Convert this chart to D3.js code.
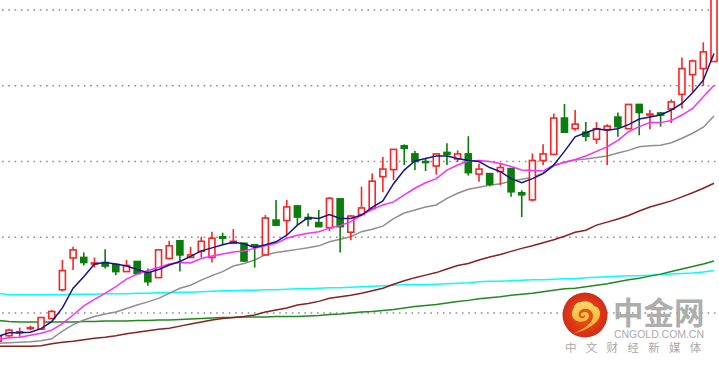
<!DOCTYPE html>
<html>
<head>
<meta charset="utf-8">
<script src="https://cdn.jsdelivr.net/npm/d3@7"></script>
<style>
  html, body { margin: 0; padding: 0; background: #fff; overflow: hidden; }
  svg { display: block; }
</style>
</head>
<body>
<div class="graph"></div>
<script>
'use strict'

// daily candles (no price axis is shown, so units are nominal)
const opens = [1172,1177.5,1180.5,1184.5,1184,1194.5,1223,1254.5,1255,1248.5,1250,1248,1241,1251,1240,1235,1254,1271.5,1255,1261,1255,1275.5,1269,1269,1267.5,1257.5,1292,1291.5,1306,1294.5,1289.5,1284.5,1313,1280,1297.5,1303.5,1335,1342,1365.5,1357.5,1350,1345.5,1359,1352.5,1357.5,1337.5,1338,1340,1343,1319,1312,1351,1357,1393,1382.5,1379,1372,1381.5,1394,1382.5,1406.5,1396,1398,1402,1416.5,1436,1442,1449]
const closes = [1177,1183,1181.5,1185.5,1195.5,1201.5,1242,1262.5,1250,1249.5,1246.5,1241,1247,1239,1231,1262.5,1266.5,1257.5,1257.5,1271,1274,1274,1271,1251.5,1266,1294,1287,1305,1295,1293,1285.5,1313.5,1285.5,1296,1304,1330.5,1342.5,1362,1363,1350,1349,1357.5,1357,1357.5,1339,1342.5,1327.5,1344,1320,1317,1351,1357.5,1393,1379,1387,1375,1382.5,1385,1384.5,1406.5,1398.5,1397,1396,1409,1442,1449.5,1458.5,1520]
const highs = [1177,1184.5,1185.5,1187.5,1195.5,1203,1252.5,1265.5,1260,1255,1263,1249,1252.5,1251,1244,1262.5,1271.5,1271.5,1265.5,1275.5,1280.5,1279.5,1283,1269.5,1267.5,1297,1312,1312,1306,1298.5,1302,1315,1313,1297,1325,1338,1354.5,1362,1367,1360.5,1353,1358,1368,1361,1375,1348,1338,1348,1343.5,1321.5,1358,1367,1397.5,1407,1401,1389,1389,1387,1398.5,1406.5,1406.5,1401,1399,1411.5,1453,1451,1468,1520]
const lows = [1172,1176.5,1176.5,1183,1184,1194,1221.5,1242.5,1247,1245,1244,1237.5,1241,1238.5,1227,1235,1253,1241,1254.5,1255,1250,1267,1268.5,1250.5,1245,1257.5,1286,1277,1287,1286,1285.5,1281,1260,1272,1297.5,1303.5,1319.5,1331.5,1346.5,1341.5,1340.5,1337,1346.5,1349.5,1336,1330,1325.5,1326.5,1315,1295,1310.5,1346.5,1357,1379,1380.5,1370,1367.5,1346.5,1374.5,1382.5,1376,1382,1384.5,1388,1402.5,1419,1425,1449]

// moving averages, one value per candle
const ma5 = [1177,1180.5,1180.5,1181,1184.5,1191.5,1205,1224.5,1236,1248.5,1250,1248.5,1246.5,1243,1240,1243,1247.5,1251,1256,1261.5,1264.5,1267.5,1270,1268.5,1265,1267.5,1270.5,1277,1287,1294.5,1293.5,1297.5,1293.5,1293.5,1297,1304.5,1311,1328,1341.5,1350.5,1353,1355.5,1355.5,1353,1351,1350,1344,1340,1333,1329,1333,1338,1346.5,1360,1374.5,1378.5,1382.5,1381,1382.5,1386.5,1392,1394,1396,1401,1407.5,1418,1430.5,1457]
const ma10 = [1174,1175.5,1176,1178,1180,1183,1189.5,1198,1207,1213.5,1219.5,1226,1233.5,1238.5,1242,1245,1248.5,1250,1249.5,1254,1256.5,1258.5,1260.5,1261.5,1264,1266.5,1269,1274,1277,1279,1280.5,1284,1286.5,1290.5,1297,1302.5,1307,1310,1317,1323.5,1329,1333,1341.5,1346.5,1350.5,1351,1350,1348,1345,1341.5,1341,1340.5,1346.5,1349,1352,1355.5,1360,1364.5,1371,1379.5,1384.5,1388.5,1388.5,1390.5,1396,1402.5,1414,1425.5]
const ma20 = [1170,1170.5,1171,1171.5,1172.5,1174.5,1182,1188.5,1193,1196.5,1199,1201,1204.5,1208,1211,1214.5,1219.5,1224.5,1227.5,1232.5,1237,1241,1246.5,1249,1252.5,1257.5,1260,1261.5,1263,1264.5,1266.5,1270.5,1273,1275.5,1280.5,1283,1286,1293.5,1299,1302,1305,1307,1313.5,1318.5,1322.5,1324.5,1326.5,1328,1330.5,1332.5,1334.5,1338.5,1345.5,1349.5,1351.5,1352.5,1354,1355.5,1358.5,1361,1364.5,1365.5,1366,1368.5,1373,1378,1384,1395]
const ma60 = [1167,1167,1167,1167,1167.5,1169.5,1171,1172,1173.5,1175,1176,1177.5,1179.5,1181,1182.5,1184,1185,1187,1189,1191,1193,1194.5,1195.5,1196.5,1198,1201,1203,1205,1208,1209.5,1211.5,1214.5,1216,1217.5,1219.5,1222,1224.5,1228.5,1232,1235,1237.5,1240,1243.5,1247,1249,1252.5,1255.5,1258,1261,1264,1266.5,1269.5,1272.5,1276,1280,1282,1287,1290,1293,1296.5,1301,1305,1308,1311,1315,1319,1323.5,1328.5]
const ma120 = [1219.5,1218,1218,1218,1218,1218,1218,1218.5,1218.5,1218.5,1219,1219,1219,1219.5,1219.5,1220,1220,1220.5,1220.5,1221,1221.5,1222,1222,1222.5,1222.5,1223,1223,1223.5,1224,1224,1224.5,1225,1225,1225.5,1226,1226.5,1227,1227.5,1228,1228,1228,1228.5,1229,1229.5,1230,1231,1231.5,1231.5,1232,1232.5,1233,1233,1233.5,1234,1234,1235,1235.5,1236,1236.5,1237,1237,1237.5,1238,1238.5,1239,1239.5,1240.5,1242]
const ma250 = [1192.5,1191.5,1191,1191,1191,1191,1191,1191,1191.5,1191.5,1192,1192,1192,1192.5,1192.5,1193,1193,1193.5,1194,1194.5,1195,1195.5,1195.5,1196,1196,1196,1196.5,1196.5,1196.5,1197,1197.5,1198.5,1199,1200,1201,1201.5,1202.5,1203.5,1205,1206.5,1207.5,1208.5,1210,1211.5,1212.5,1214,1215,1216,1217.5,1218.5,1219.5,1221,1222.5,1224,1224.5,1226,1227.5,1229,1231,1233,1234.5,1236.5,1238.5,1241,1243.5,1246,1248.5,1251.5]

const gridPrices = [1200, 1275, 1350, 1425, 1500]

const width = 719
const height = 365
const upColor = '#ff2222'
const downColor = '#0b7d0b'

const candles = opens.map((o, i) => ({ i, o, c: closes[i], h: highs[i], l: lows[i] }))

const xScale = d3.scaleLinear().domain([1, 67]).range([9, 714])
const yScale = d3.scaleLinear().domain([1200, 1500]).range([313, 10])

const svg = d3.select('.graph')
  .append('svg')
  .attr('width', width)
  .attr('height', height)

const defs = svg.append('defs')
const redGrad = defs.append('radialGradient').attr('id', 'logoRed')
redGrad.append('stop').attr('offset', '0%').attr('stop-color', '#ee5a16')
redGrad.append('stop').attr('offset', '100%').attr('stop-color', '#d42a17')
const yellowGrad = defs.append('linearGradient').attr('id', 'logoYellow')
  .attr('x1', 0).attr('y1', 0).attr('x2', 0).attr('y2', 1)
yellowGrad.append('stop').attr('offset', '0%').attr('stop-color', '#fdd868')
yellowGrad.append('stop').attr('offset', '100%').attr('stop-color', '#f7a823')

const plot = svg.append('g').style('filter', 'blur(0.35px)')

// dotted price grid
plot.append('g')
  .selectAll('line')
  .data(gridPrices)
  .enter().append('line')
    .attr('x1', 2)
    .attr('x2', width)
    .attr('y1', d => yScale(d))
    .attr('y2', d => yScale(d))
    .attr('stroke', '#8c8c8c')
    .attr('stroke-width', 1.6)
    .attr('stroke-dasharray', '1.6 4.7')

const maLine = d3.line()
  .x((d, i) => xScale(i))
  .y(d => yScale(d))

function drawMa (values, color) {
  plot.append('path')
    .attr('d', maLine(values))
    .attr('fill', 'none')
    .attr('stroke', color)
    .attr('stroke-width', 1.5)
}

drawMa(ma120, '#00ffff')
drawMa(ma250, '#1f8a1f')
drawMa(ma60, '#8f1f1f')
drawMa(ma20, '#8f8f8f')

const candle = plot.append('g')
  .selectAll('g')
  .data(candles)
  .enter().append('g')
    .attr('stroke', d => d.c >= d.o ? upColor : downColor)

candle.append('line')
  .attr('x1', d => xScale(d.i))
  .attr('x2', d => xScale(d.i))
  .attr('y1', d => yScale(d.h))
  .attr('y2', d => yScale(d.l))
  .attr('stroke-width', 1.6)

candle.append('rect')
  .attr('x', d => xScale(d.i) - 3)
  .attr('y', d => yScale(Math.max(d.o, d.c)))
  .attr('width', 6)
  .attr('height', d => Math.abs(yScale(d.o) - yScale(d.c)))
  .attr('fill', d => d.c >= d.o ? '#fff' : downColor)
  .attr('stroke-width', 1.6)

drawMa(ma10, '#ff2cff')
drawMa(ma5, '#16168a')

// site logo, bottom right
const logo = svg.append('g')
logo.append('circle')
  .attr('cx', 585).attr('cy', 315).attr('r', 22.5)
  .attr('fill', 'url(#logoRed)')
logo.append('path')
  .attr('transform', 'translate(585,315)')
  .attr('fill', 'url(#logoYellow)')
  .attr('d', 'M-12,18.5 C-4,17 8,12 13,5 C17,-1 15,-8 9,-9 C7,-13 0,-15 -4,-13 C-8,-13 -11,-10 -11,-7 C-14,-4 -14,2 -10,5 C-6,8 0,7 3,4 C5,1 4,-3 0,-3 C-3,-3 -5,-1 -4,1 C-1,2 -1,0 0,0 C1,2 -2,4 -4,3 C-7,2 -7,-3 -4,-5 C1,-8 8,-5 8,1 C8,8 -2,15 -12,18.5 Z')

logo.append('text')
  .attr('x', 613).attr('y', 324)
  .attr('font-family', '"Noto Sans CJK SC"')
  .attr('font-weight', 700)
  .attr('font-size', 30.5)
  .attr('fill', '#adadad')
  .text('中金网')
logo.append('text')
  .attr('x', 614).attr('y', 337.5)
  .attr('font-family', '"Liberation Sans"')
  .attr('font-size', 10.5)
  .attr('textLength', 90)
  .attr('fill', '#ababab')
  .text('CNGOLD.COM.CN')
logo.append('text')
  .attr('x', 565).attr('y', 351.5)
  .attr('font-family', '"Noto Sans CJK SC"')
  .attr('font-size', 11.5)
  .attr('letter-spacing', 9.3)
  .attr('fill', '#a8a8a8')
  .text('中文财经新媒体')
</script>
</body>
</html>
